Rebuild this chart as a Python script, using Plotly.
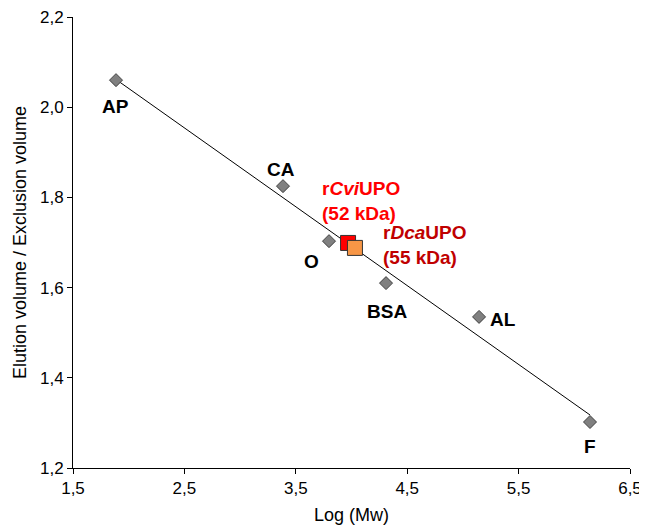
import numpy as np
import plotly.graph_objects as go

# Standards
std_names = ["AP", "CA", "O", "BSA", "AL", "F"]
std_x = [1.886, 3.385, 3.798, 4.31, 5.145, 6.141]
std_y = [2.060, 1.825, 1.703, 1.610, 1.535, 1.302]

# Samples
smp_names = ["r<i>Cvi</i>UPO<br>(52 kDa)", "r<i>Dca</i>UPO<br>(55 kDa)"]
smp_x = [3.969, 4.031]
smp_y = [1.699, 1.688]

x_ticks = [1.5, 2.5, 3.5, 4.5, 5.5, 6.5]
x_ticklabels = ["1,5", "2,5", "3,5", "4,5", "5,5", "6,5"]
y_ticks = [1.2, 1.4, 1.6, 1.8, 2.0, 2.2]
y_ticklabels = ["1,2", "1,4", "1,6", "1,8", "2,0", "2,2"]

FONT = "Liberation Sans, Arial, sans-serif"

slope, intercept = np.polyfit(std_x, std_y, 1)
line_x = [min(std_x), max(std_x)]
line_y = [slope * v + intercept for v in line_x]

fig = go.Figure()
fig.add_trace(go.Scatter(x=line_x, y=line_y, mode="lines",
                         line=dict(color="black", width=1), hoverinfo="skip"))
fig.add_trace(go.Scatter(x=std_x, y=std_y, mode="markers",
                         marker=dict(symbol="diamond", size=10, color="#808080",
                                     line=dict(color="#404040", width=1))))
fig.add_trace(go.Scatter(x=[smp_x[0]], y=[smp_y[0]], mode="markers",
                         marker=dict(symbol="square", size=15, color="#ff0000",
                                     line=dict(color="#333333", width=1))))
fig.add_trace(go.Scatter(x=[smp_x[1]], y=[smp_y[1]], mode="markers",
                         marker=dict(symbol="square", size=15, color="#f79646",
                                     line=dict(color="#333333", width=1))))

shifts = {"AP": (-1, -26, "center"), "CA": (-2, 17, "center"), "O": (-18, -20, "center"),
          "BSA": (1, -28, "center"), "AL": (9, -3, "left"), "F": (0, -24, "center")}
for n, x, y in zip(std_names, std_x, std_y):
    dx, dy, xa = shifts[n]
    fig.add_annotation(x=x, y=y, text="<b>%s</b>" % n, showarrow=False,
                       xshift=dx, yshift=dy, xanchor=xa, yanchor="middle",
                       font=dict(family=FONT, size=19, color="black"))

smp_colors = ["#ff0000", "#c00000"]
smp_shifts = [(-28, 42), (26, 3)]
for n, x, y, c, (dx, dy) in zip(smp_names, smp_x, smp_y, smp_colors, smp_shifts):
    fig.add_annotation(x=x, y=y, text="<b>%s</b>" % n, showarrow=False,
                       xshift=dx, yshift=dy, xanchor="left", yanchor="middle", align="left",
                       font=dict(family=FONT, size=19, color=c))

fig.update_layout(
    width=639, height=522,
    margin=dict(l=65, r=17, t=9, b=62),
    plot_bgcolor="white", paper_bgcolor="white",
    showlegend=False,
    font=dict(family=FONT, size=17, color="black"),
)
fig.update_xaxes(range=[1.5, 6.5], tickvals=x_ticks, ticktext=x_ticklabels,
                 showgrid=False, zeroline=False, showline=True, linecolor="black",
                 linewidth=1, ticks="outside", ticklen=5, tickcolor="black",
                 automargin=False, ticklabeloverflow="allow",
                 title=dict(text="Log (Mw)", font=dict(size=18), standoff=10),
                 tickfont=dict(size=17))
fig.update_yaxes(range=[1.2, 2.2], tickvals=y_ticks, ticktext=y_ticklabels,
                 showgrid=False, zeroline=False, showline=True, linecolor="black",
                 linewidth=1, ticks="outside", ticklen=5, tickcolor="black",
                 automargin=False, ticklabeloverflow="allow",
                 title=dict(text="Elution volume / Exclusion volume", font=dict(size=18), standoff=8),
                 tickfont=dict(size=17))

fig.write_html("out.html")
